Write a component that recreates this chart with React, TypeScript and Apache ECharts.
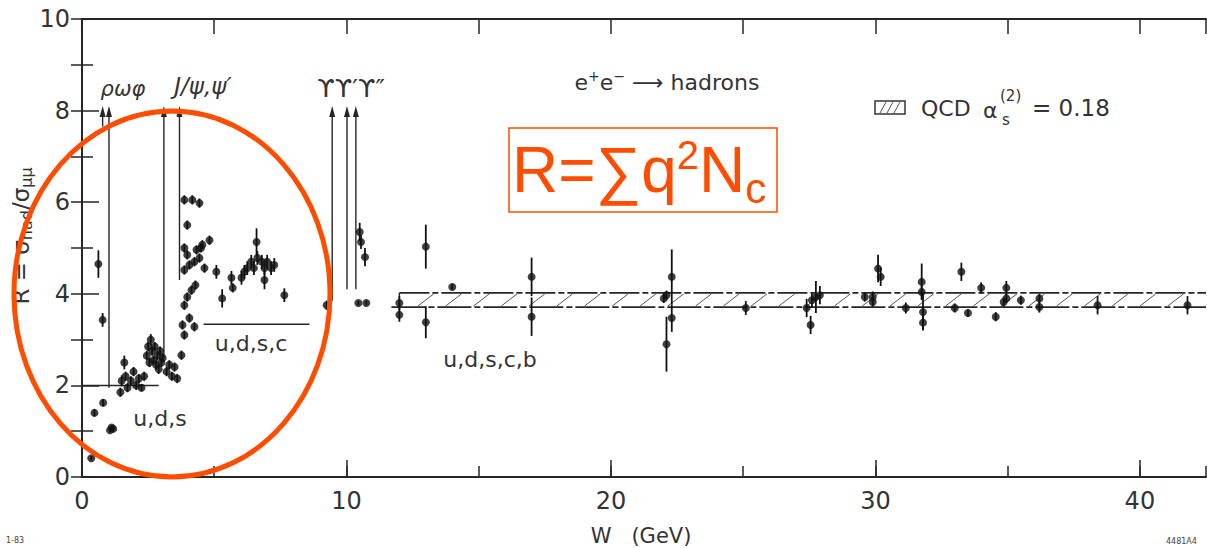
import React, { useEffect, useRef } from "react";
import * as echarts from "echarts";

// e+e- -> hadrons: centre-of-mass energy W (GeV), ratio R and its error
const lowW = [
  0.35, 0.47, 0.62, 0.78, 0.8, 1.06, 1.12, 1.18, 1.45, 1.5, 1.6, 1.65, 1.72, 1.85, 1.95, 2.05, 2.15, 2.25, 2.35, 2.45,
  2.5, 2.55, 2.6, 2.65, 2.7, 2.75, 2.8, 2.85, 2.9, 2.95, 3.0, 3.05, 3.2, 3.3, 3.4, 3.5, 3.6, 3.76, 3.87, 3.8,
  4.06, 3.87, 3.98, 4.14, 3.87, 4.06, 4.25, 4.44, 4.63, 3.98, 4.33, 4.55, 4.82, 3.87, 4.5, 3.98, 3.87, 4.17, 4.44, 4.29,
  4.25, 5.08, 5.3, 5.65, 5.7, 6.03, 6.14, 6.25, 6.4, 6.5, 6.6, 6.63, 6.8, 6.9, 7.0, 7.15, 7.27, 6.9, 7.65,
];
const lowR = [
  0.41, 1.4, 4.65, 3.43, 1.62, 1.02, 1.08, 1.05, 1.85, 2.1, 2.5, 2.2, 1.95, 2.1, 2.3, 2.0, 2.15, 1.95, 2.2, 2.65,
  2.85, 2.5, 3.0, 2.75, 2.55, 2.85, 2.45, 2.65, 2.35, 2.75, 2.5, 2.6, 2.3, 2.45, 2.2, 2.4, 2.15, 2.66, 3.1, 3.32,
  3.47, 3.75, 3.93, 4.08, 4.52, 4.63, 4.7, 4.78, 4.56, 4.85, 4.96, 5.07, 5.17, 5.0, 5.0, 5.5, 6.05, 6.05, 5.98, 4.19,
  3.28, 4.48, 3.9, 4.35, 4.13, 4.35, 4.48, 4.56, 4.7, 4.56, 5.13, 4.78, 4.7, 4.56, 4.7, 4.56, 4.63, 4.3, 3.97,
];
const lowErr = [
  0.05, 0.08, 0.3, 0.15, 0.08, 0.05, 0.05, 0.05, 0.1, 0.12, 0.15, 0.1, 0.1, 0.1, 0.1, 0.1, 0.1, 0.08, 0.1, 0.1,
  0.1, 0.1, 0.12, 0.1, 0.1, 0.1, 0.1, 0.1, 0.1, 0.1, 0.1, 0.1, 0.1, 0.1, 0.1, 0.1, 0.1, 0.1, 0.1, 0.1,
  0.1, 0.1, 0.1, 0.1, 0.1, 0.1, 0.1, 0.1, 0.1, 0.1, 0.1, 0.1, 0.1, 0.1, 0.1, 0.1, 0.1, 0.1, 0.1, 0.1,
  0.1, 0.15, 0.2, 0.15, 0.1, 0.15, 0.15, 0.15, 0.15, 0.15, 0.3, 0.15, 0.15, 0.15, 0.15, 0.15, 0.15, 0.2, 0.15,
];

const highW = [
  9.25, 10.5, 10.55, 10.7, 10.45, 10.75, 12.0, 12.0, 13.0, 13.0, 14.0, 17.0, 17.0, 22.0, 22.1, 22.3, 22.3, 22.1,
  25.1, 27.4, 27.55, 27.6, 27.75, 27.9, 29.6, 29.9, 29.9, 30.1, 30.2, 31.15, 31.75, 31.75, 31.8, 31.8, 33.0, 33.25,
  33.5, 34.0, 34.55, 34.95, 34.95, 34.85, 35.5, 36.2, 36.2, 38.4, 41.8,
];
const highR = [
  3.75, 5.35, 5.13, 4.8, 3.8, 3.8, 3.8, 3.54, 5.03, 3.38, 4.15, 4.37, 3.5, 3.9, 3.97, 4.37, 3.47, 2.9,
  3.69, 3.69, 3.32, 3.86, 3.93, 3.97, 3.93, 3.93, 3.82, 4.55, 4.37, 3.69, 4.26, 4.04, 3.6, 3.37, 3.69, 4.48,
  3.58, 4.13, 3.5, 4.13, 3.9, 3.82, 3.86, 3.71, 3.9, 3.75, 3.75,
];
const highErr = [
  0.1, 0.2, 0.15, 0.2, 0.05, 0.05, 0.15, 0.15, 0.48, 0.35, 0.06, 0.42, 0.42, 0.1, 0.1, 0.6, 0.3, 0.6,
  0.15, 0.2, 0.2, 0.15, 0.35, 0.2, 0.1, 0.12, 0.1, 0.3, 0.2, 0.12, 0.4, 0.15, 0.4, 0.15, 0.1, 0.2,
  0.08, 0.12, 0.1, 0.15, 0.1, 0.1, 0.1, 0.12, 0.1, 0.2, 0.2,
];

// Narrow resonances whose peaks run off scale: mass, start of the drawn line, arrow tip
const resonanceW = [0.78, 1.02, 3.097, 3.686, 9.46, 10.02, 10.355];
const resonanceFrom = [7.65, 1.95, 2.6, 4.3, 3.85, 4.1, 4.1];
const RESONANCE_TIP = 8.1;

// Quark-parton levels
const udsLevel = [[0, 2], [2.9, 2]];
const udscLevel = [[4.6, 10 / 3], [8.6, 10 / 3]];

// QCD prediction band (W range, R range)
const qcdBand = [[12, 42.5, 3.71, 4.02]];

const xTicks10 = [0, 10, 20, 30, 40];

const INK = "#262626";
const ORANGE = "#ff4d00";
const FONT = '"DejaVu Sans", sans-serif';
const SANS = '"Liberation Sans", Arial, sans-serif';

export default function App() {
  const ref = useRef<HTMLDivElement>(null);

  useEffect(() => {
    if (!ref.current) return;
    const chart = echarts.init(ref.current, undefined, { renderer: "svg" });

    const points = [
      ...lowW.map((w, i) => [w, lowR[i], lowErr[i]]),
      ...highW.map((w, i) => [w, highR[i], highErr[i]]),
    ];
    const resonances = resonanceW.map((w, i) => [w, resonanceFrom[i], RESONANCE_TIP]);

    const axisLine = { show: true, lineStyle: { color: INK, width: 2 } };
    const tick = (length: number) => ({ show: true, inside: true, length, lineStyle: { color: INK, width: 1.5 } });
    const label = (x: number, y: number, text: string, fontSize: number, extra: any = {}) => ({
      type: "text", x, y,
      style: { text, align: "center", verticalAlign: "middle", fill: "#333", fontSize, fontFamily: FONT, ...extra },
    });

    const option: any = {
      animation: false,
      backgroundColor: "#ffffff",
      grid: { left: 82, top: 19, right: 1, bottom: 71, containLabel: false },
      xAxis: [
        {
          type: "value", min: 0, max: 42.5, interval: 10, position: "bottom",
          axisLine, axisTick: tick(17), splitLine: { show: false },
          axisLabel: {
            color: "#333", fontSize: 24, fontFamily: FONT, margin: 12, showMaxLabel: false,
            formatter: (v: number) => (xTicks10.includes(v) ? String(v) : ""),
          },
        },
        {
          type: "value", min: 0, max: 42.5, interval: 5, position: "bottom",
          axisLine: { show: false }, axisTick: tick(11), axisLabel: { show: false }, splitLine: { show: false },
        },
        {
          type: "value", min: 0, max: 42.5, interval: 5, position: "top",
          axisLine, axisTick: tick(15), axisLabel: { show: false }, splitLine: { show: false },
        },
      ],
      yAxis: [
        {
          type: "value", min: 0, max: 10, interval: 2, position: "left",
          axisLine, axisTick: tick(17), splitLine: { show: false },
          minorTick: { show: true, splitNumber: 2, length: 11, lineStyle: { color: INK, width: 1.5 } },
          axisLabel: { color: "#333", fontSize: 24, fontFamily: FONT, margin: 12 },
        },
        {
          type: "value", min: 0, max: 10, interval: 1, position: "right",
          axisLine, axisTick: tick(11), axisLabel: { show: false }, splitLine: { show: false },
        },
      ],
      series: [
        {
          type: "custom",
          name: "band",
          xAxisIndex: 0, yAxisIndex: 0,
          data: qcdBand,
          renderItem: (_p: any, api: any) => {
            const x0 = api.value(0), x1 = api.value(1), lo = api.value(2), hi = api.value(3);
            const a = api.coord([x0, hi]);
            const b = api.coord([x1, hi]);
            const c = api.coord([x0, lo]);
            const d = api.coord([x1, lo]);
            const children: any[] = [
              { type: "line", shape: { x1: a[0], y1: a[1], x2: b[0], y2: b[1] }, style: { stroke: INK, lineWidth: 1.6, lineDash: [30, 3, 6, 3] } },
              { type: "line", shape: { x1: c[0] - 8, y1: c[1], x2: d[0], y2: d[1] }, style: { stroke: INK, lineWidth: 1.6, lineDash: [34, 3, 6, 3] } },
              { type: "line", shape: { x1: a[0], y1: a[1], x2: c[0], y2: c[1] }, style: { stroke: INK, lineWidth: 1.4 } },
            ];
            for (let w = x0 + 0.7; w + 0.6 < x1; w += 1.05) {
              const p = api.coord([w, lo]);
              const q = api.coord([w + 0.6, hi]);
              children.push({ type: "line", shape: { x1: p[0], y1: p[1] - 1, x2: q[0], y2: q[1] + 1 }, style: { stroke: "#555", lineWidth: 1 } });
            }
            return { type: "group", children };
          },
          z: 2,
        },
        {
          type: "line", xAxisIndex: 0, yAxisIndex: 0, data: udsLevel, symbol: "none",
          lineStyle: { color: INK, width: 1.5 }, z: 2,
        },
        {
          type: "line", xAxisIndex: 0, yAxisIndex: 0, data: udscLevel, symbol: "none",
          lineStyle: { color: INK, width: 1.5 }, z: 2,
        },
        {
          type: "custom",
          name: "resonances",
          xAxisIndex: 0, yAxisIndex: 0,
          data: resonances,
          renderItem: (_p: any, api: any) => {
            const w = api.value(0);
            const lo = api.coord([w, api.value(1)]);
            const hi = api.coord([w, api.value(2)]);
            return {
              type: "group",
              children: [
                { type: "line", shape: { x1: lo[0], y1: lo[1], x2: hi[0], y2: hi[1] + 6 }, style: { stroke: INK, lineWidth: 1.4 } },
                {
                  type: "polygon",
                  shape: { points: [[hi[0], hi[1]], [hi[0] - 3, hi[1] + 11], [hi[0] + 3, hi[1] + 11]] },
                  style: { fill: INK },
                },
              ],
            };
          },
          z: 3,
        },
        {
          type: "custom",
          name: "errors",
          xAxisIndex: 0, yAxisIndex: 0,
          data: points,
          renderItem: (_p: any, api: any) => {
            const w = api.value(0), r = api.value(1), e = api.value(2);
            const a = api.coord([w, r - e]);
            const b = api.coord([w, r + e]);
            return { type: "line", shape: { x1: a[0], y1: a[1], x2: b[0], y2: b[1] }, style: { stroke: "#111", lineWidth: 1.8 } };
          },
          z: 4,
        },
        {
          type: "scatter",
          xAxisIndex: 0, yAxisIndex: 0,
          data: points.map((p) => [p[0], p[1]]),
          symbol: "circle", symbolSize: 8,
          itemStyle: { color: "#111" },
          z: 5,
        },
      ],
      graphic: [
        {
          type: "text", x: 21, y: 236, rotation: Math.PI / 2,
          style: {
            text: "{n|R = σ}{s|had}{n|/σ}{s|μμ}",
            align: "center", verticalAlign: "middle", fill: "#333",
            rich: {
              n: { fontSize: 23, fontFamily: FONT, fill: "#333" },
              s: { fontSize: 16, fontFamily: FONT, fill: "#333", padding: [11, 0, 0, 0] },
            },
          },
        },
        label(641, 536, "W   (GeV)", 21),
        label(123, 89, "ρωφ", 21, { fontStyle: "italic" }),
        label(203, 86, "J/ψ,ψ′", 23, { fontStyle: "italic" }),
        label(351, 88, "ϒϒ′ϒ″", 25),
        {
          type: "text", x: 667, y: 82,
          style: {
            text: "{n|e}{p|+}{n|e}{p|−}{n| ⟶ hadrons}",
            align: "center", verticalAlign: "middle",
            rich: {
              n: { fontSize: 22, fontFamily: FONT, fill: "#333" },
              p: { fontSize: 14, fontFamily: FONT, fill: "#333", padding: [0, 0, 13, 0] },
            },
          },
        },
        {
          type: "group", x: 875, y: 101,
          children: [
            { type: "rect", shape: { x: 0, y: 0, width: 30, height: 13 }, style: { fill: "none", stroke: "#333", lineWidth: 1.5 } },
            { type: "line", shape: { x1: 5, y1: 12, x2: 11, y2: 1 }, style: { stroke: "#555", lineWidth: 1 } },
            { type: "line", shape: { x1: 12, y1: 12, x2: 18, y2: 1 }, style: { stroke: "#555", lineWidth: 1 } },
            { type: "line", shape: { x1: 19, y1: 12, x2: 25, y2: 1 }, style: { stroke: "#555", lineWidth: 1 } },
          ],
        },
        { type: "text", x: 921, y: 108, style: { text: "QCD", align: "left", verticalAlign: "middle", fill: "#333", fontSize: 22, fontFamily: FONT } },
        { type: "text", x: 983, y: 110, style: { text: "α", align: "left", verticalAlign: "middle", fill: "#333", fontSize: 22, fontFamily: FONT } },
        { type: "text", x: 1000, y: 96, style: { text: "(2)", align: "left", verticalAlign: "middle", fill: "#333", fontSize: 15, fontFamily: FONT } },
        { type: "text", x: 1002, y: 120, style: { text: "s", align: "left", verticalAlign: "middle", fill: "#333", fontSize: 15, fontFamily: FONT } },
        { type: "text", x: 1032, y: 108, style: { text: "= 0.18", align: "left", verticalAlign: "middle", fill: "#333", fontSize: 23, fontFamily: FONT } },
        label(160, 418, "u,d,s", 22),
        label(251, 343, "u,d,s,c", 22),
        label(490, 359, "u,d,s,c,b", 22),
        { type: "text", x: 6, y: 540, style: { text: "1-83", align: "left", verticalAlign: "middle", fill: "#444", fontSize: 8, fontFamily: FONT } },
        { type: "text", x: 1166, y: 541, style: { text: "4481A4", align: "left", verticalAlign: "middle", fill: "#444", fontSize: 8, fontFamily: FONT } },
        {
          type: "rect", shape: { x: 509, y: 128, width: 268, height: 84 },
          style: { fill: "none", stroke: ORANGE, lineWidth: 1.5 }, z: 100,
        },
        {
          type: "text", x: 512, y: 170, z: 100,
          style: {
            text: "{a|R=∑q}{b|2}{a|N}{c|c}",
            align: "left", verticalAlign: "middle",
            rich: {
              a: { fontSize: 64, fontFamily: SANS, fill: ORANGE },
              b: { fontSize: 40, fontFamily: SANS, fill: ORANGE, padding: [0, 0, 30, 0] },
              c: { fontSize: 42, fontFamily: SANS, fill: ORANGE, padding: [36, 0, 0, 0] },
            },
          },
        },
        {
          type: "ellipse", shape: { cx: 172, cy: 294, rx: 158, ry: 183 },
          style: { fill: "none", stroke: ORANGE, lineWidth: 5 }, z: 100,
        },
      ],
    };

    chart.setOption(option);
    return () => chart.dispose();
  }, []);

  return <div ref={ref} style={{ position: "fixed", left: 0, top: 0, width: 1207, height: 548 }} />;
}
